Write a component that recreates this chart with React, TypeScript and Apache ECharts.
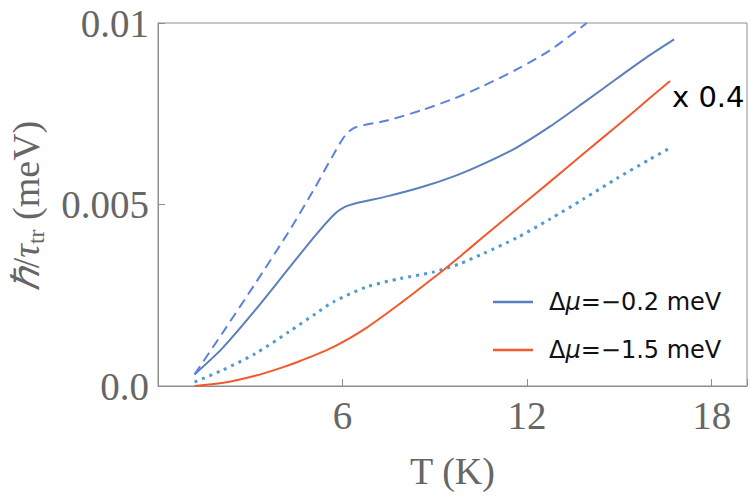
import React, { useEffect, useRef } from "react";
import * as echarts from "echarts";

// Temperature (K) and scattering rate hbar/tau_tr (meV)
const tSmall = [1.19, 2.08, 3.16, 4.25, 5.12, 5.76, 6.09, 6.41, 7.48, 8.58, 9.66, 10.58, 11.66, 12.75, 13.83, 14.92, 16.0, 16.78];
const rateSmall = [0.00032, 0.00103, 0.00209, 0.00324, 0.00415, 0.00475, 0.00494, 0.00503, 0.00523, 0.00548, 0.00579, 0.00612, 0.00657, 0.00715, 0.0078, 0.00847, 0.00912, 0.00955];

const tSmallDashed = [1.19, 2.08, 3.16, 4.25, 5.12, 5.66, 6.09, 6.41, 7.48, 8.58, 9.66, 10.58, 11.66, 12.75, 13.94];
const rateSmallDashed = [0.00032, 0.00144, 0.00282, 0.00425, 0.00549, 0.00631, 0.00691, 0.00712, 0.00732, 0.0076, 0.00793, 0.00827, 0.00872, 0.00925, 0.01];

const tSmallDotted = [1.19, 2.08, 3.16, 4.25, 5.12, 5.71, 6.79, 7.87, 8.96, 9.82, 10.58, 11.66, 12.75, 13.83, 14.92, 16.0, 16.61];
const rateSmallDotted = [0.00011, 0.00043, 0.00089, 0.00149, 0.00199, 0.00232, 0.00273, 0.00296, 0.00314, 0.00337, 0.00365, 0.00408, 0.0046, 0.00515, 0.00572, 0.00625, 0.00654];

const tLarge = [1.19, 2.08, 3.16, 4.0, 4.62, 5.71, 6.79, 7.87, 8.96, 9.82, 10.58, 11.66, 12.75, 13.83, 14.92, 16.0, 16.65];
const rateLarge = [0.0, 0.00008, 0.00028, 0.0005, 0.00069, 0.00108, 0.00161, 0.00227, 0.00298, 0.00357, 0.00411, 0.00487, 0.00563, 0.0064, 0.00716, 0.00794, 0.0084];

const legendNames = ["Δμ=−0.2 meV", "Δμ=−1.5 meV"];
const xTicks = [6, 12, 18];
const yTickLabels: Record<string, string> = { "0": "0.0", "0.005": "0.005", "0.01": "0.01" };
const scaleNote = "x 0.4";

const zip = (xs: number[], ys: number[]) => xs.map((x, i) => [x, ys[i]]);

const SERIF = "'Liberation Serif', 'Times New Roman', serif";
const SANS = "'DejaVu Sans', sans-serif";
const GREY = "#666666";
const FRAME = "#8e8e8e";

export default function App() {
  const ref = useRef<HTMLDivElement>(null);
  useEffect(() => {
    if (!ref.current) return;
    const chart = echarts.init(ref.current, null, { renderer: "svg" });
    chart.setOption({
      animation: false,
      backgroundColor: "#ffffff",
      grid: { left: 158, right: 3, top: 23, bottom: 114, show: true, borderColor: FRAME, borderWidth: 1 },
      xAxis: {
        type: "value",
        min: 0,
        max: 19.15,
        interval: 6,
        name: "T (K)",
        nameLocation: "middle",
        nameGap: 66,
        nameTextStyle: { fontFamily: SERIF, fontSize: 38, color: GREY },
        axisLine: { lineStyle: { color: FRAME } },
        axisTick: { inside: true, length: 7, lineStyle: { color: FRAME } },
        splitLine: { show: false },
        axisLabel: {
          margin: 10,
          fontFamily: SERIF,
          fontSize: 39,
          color: GREY,
          formatter: (v: number) => (xTicks.some((t) => Math.abs(t - v) < 1e-6) ? String(v) : ""),
        },
      },
      yAxis: {
        type: "value",
        min: 0,
        max: 0.01,
        interval: 0.005,
        axisLine: { show: true, lineStyle: { color: FRAME } },
        axisTick: { show: true, inside: true, length: 7, lineStyle: { color: FRAME } },
        splitLine: { show: false },
        axisLabel: {
          margin: 9,
          fontFamily: SERIF,
          fontSize: 39,
          color: GREY,
          formatter: (v: number) => {
            const key = Object.keys(yTickLabels).find((k) => Math.abs(Number(k) - v) < 1e-9);
            return key ? yTickLabels[key] : "";
          },
        },
      },
      legend: {
        data: legendNames,
        orient: "vertical",
        left: 488,
        top: 285,
        icon: "rect",
        itemWidth: 40,
        itemHeight: 2.5,
        itemGap: 24,
        formatter: (name: string) => name.replace("μ", "{i|μ}"),
        textStyle: {
          fontFamily: SANS,
          fontSize: 24,
          lineHeight: 24,
          color: "#111111",
          padding: [0, 0, 0, 11],
          rich: { i: { fontFamily: SANS, fontSize: 24, lineHeight: 24, fontStyle: "italic", color: "#111111" } },
        },
      },
      graphic: [
        {
          type: "text",
          x: 26,
          y: 206,
          rotation: Math.PI / 2,
          style: {
            text: "{i|ℏ}{n|/}{i|τ}{s|tr}{n| (meV)}",
            textAlign: "center",
            textVerticalAlign: "middle",
            rich: {
              n: { fontFamily: SERIF, fontSize: 38, fill: GREY, lineHeight: 44 },
              i: { fontFamily: SERIF, fontSize: 38, fontStyle: "italic", fill: GREY, lineHeight: 44 },
              s: { fontFamily: SERIF, fontSize: 24, fill: GREY, lineHeight: 24, verticalAlign: "bottom" },
            },
          },
        },
        {
          type: "text",
          x: 672,
          y: 97,
          style: {
            text: scaleNote,
            fontFamily: SANS,
            fontSize: 29,
            fill: "#000000",
            textAlign: "left",
            textVerticalAlign: "middle",
          },
        },
      ],
      series: [
        {
          name: legendNames[0],
          type: "line",
          data: zip(tSmall, rateSmall),
          symbol: "none",
          smooth: 0.25,
          lineStyle: { color: "#5b7fbd", width: 2 },
          itemStyle: { color: "#5b7fbd" },
        },
        {
          name: "dashed",
          type: "line",
          data: zip(tSmallDashed, rateSmallDashed),
          symbol: "none",
          smooth: 0.25,
          lineStyle: { color: "#5b82e0", width: 2, type: [10, 6] },
          itemStyle: { color: "#5b82e0" },
        },
        {
          name: "dotted",
          type: "line",
          data: zip(tSmallDotted, rateSmallDotted),
          symbol: "none",
          smooth: 0.25,
          lineStyle: { color: "#4e9ad3", width: 3, type: [3, 5] },
          itemStyle: { color: "#4e9ad3" },
        },
        {
          name: legendNames[1],
          type: "line",
          data: zip(tLarge, rateLarge),
          symbol: "none",
          smooth: 0.25,
          lineStyle: { color: "#f25a2c", width: 2 },
          itemStyle: { color: "#f25a2c" },
        },
      ],
    });
    return () => chart.dispose();
  }, []);
  return <div ref={ref} style={{ position: "absolute", left: 0, top: 0, width: 750, height: 500 }} />;
}
